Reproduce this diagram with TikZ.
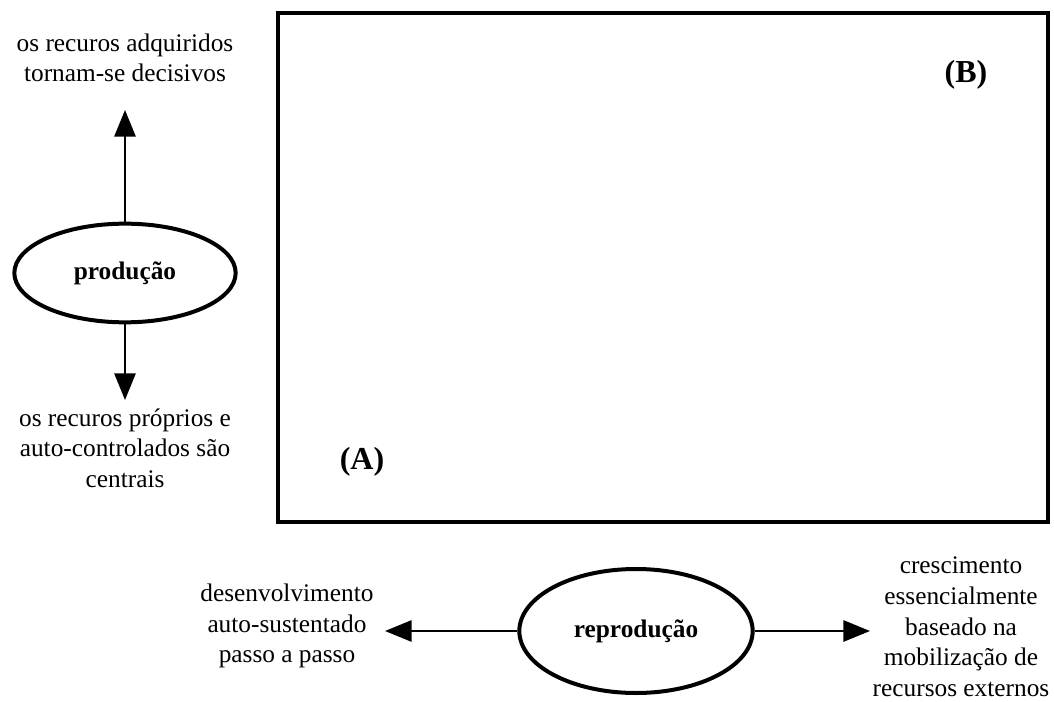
\documentclass[tikz,border=0pt]{standalone}
\usepackage{fontspec}
\setmainfont{Liberation Serif}
\usetikzlibrary{arrows.meta,shapes.geometric}

\begin{document}
\begin{tikzpicture}[x=0.75pt,y=-0.75pt,
  txt/.style={font=\fontsize{19}{23}\selectfont,align=center,inner sep=0pt},
  lbl/.style={font=\fontsize{24}{28}\selectfont\bfseries,inner sep=0pt},
  oval/.style={draw,ellipse,line width=3pt,inner sep=0pt,font=\fontsize{19}{22}\selectfont\bfseries},
  arr/.style={line width=1.4pt,-{Triangle[length=20pt,width=16pt]}}]
  \useasboundingbox (0,0) rectangle (1054,702);
  \draw[line width=3.6pt] (278,13) rectangle (1048,522);
  \node[lbl] (B) at (966,75) {(B)};
  \node[lbl] (A) at (362,462) {(A)};
  % producao
  \node[oval,minimum width=166pt,minimum height=74pt] (prod) at (125,273) {produção};
  \node[txt] (adq) at (125,58) {os recuros adquiridos\\tornam-se decisivos};
  \node[txt] (prop) at (125,448) {os recuros próprios e\\auto-controlados são\\centrais};
  \coordinate (up) at (125,110);
  \coordinate (down) at (125,400);
  \draw[arr] (prod.north) -- (up);
  \draw[arr] (prod.south) -- (down);
  % reproducao
  \node[oval,minimum width=175pt,minimum height=93pt] (repro) at (636,631) {reprodução};
  \node[txt] (desenv) at (287,626) {desenvolvimento\\auto-sustentado\\passo a passo};
  \node[txt] (cresc) at (961,627) {crescimento\\essencialmente\\baseado na\\mobilização de\\recursos externos};
  \coordinate (left) at (385,631);
  \coordinate (right) at (870,631);
  \draw[arr] (repro.west) -- (left);
  \draw[arr] (repro.east) -- (right);
\end{tikzpicture}
\end{document}
